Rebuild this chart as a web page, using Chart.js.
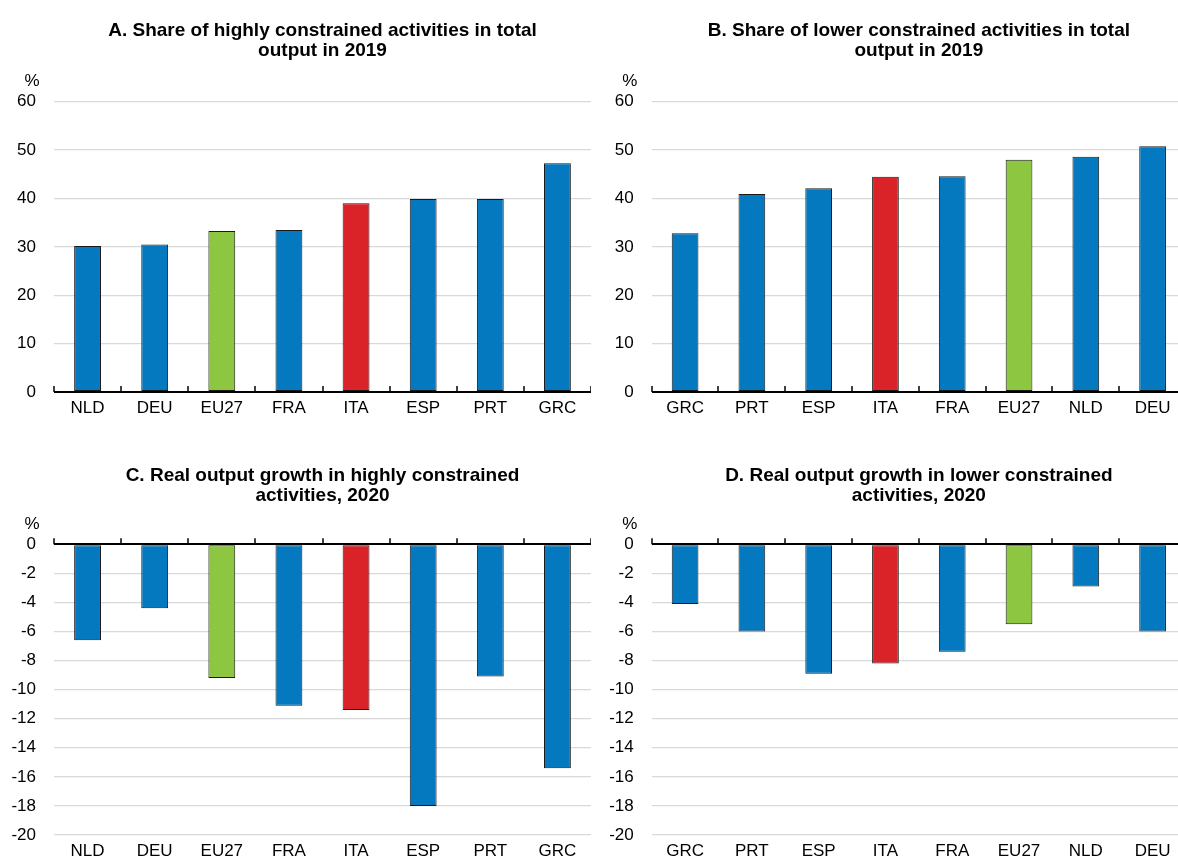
<!DOCTYPE html>
<html>
<head>
<meta charset="utf-8">
<script src="https://cdn.jsdelivr.net/npm/chart.js@4/dist/chart.umd.min.js"></script>
<style>
  html, body { margin:0; padding:0; background:#fff; width:1178px; height:859px; overflow:hidden; position:relative; }
  canvas { position:absolute; display:block; }
</style>
</head>
<body>
<canvas id="cA" width="591" height="430" style="left:0px;top:0px;"></canvas>
<canvas id="cB" width="595" height="430" style="left:591px;top:0px;"></canvas>
<canvas id="cC" width="591" height="433" style="left:0px;top:440px;"></canvas>
<canvas id="cD" width="595" height="433" style="left:591px;top:440px;"></canvas>
<script>
// ---- Data ----
const categoriesA = ['NLD','DEU','EU27','FRA','ITA','ESP','PRT','GRC'];
const valuesA = [30.2, 30.5, 33.3, 33.5, 39.0, 39.9, 39.9, 47.3];

const categoriesB = ['GRC','PRT','ESP','ITA','FRA','EU27','NLD','DEU'];
const valuesB = [32.8, 40.9, 42.1, 44.5, 44.6, 48.0, 48.6, 50.8];

const categoriesC = ['NLD','DEU','EU27','FRA','ITA','ESP','PRT','GRC'];
const valuesC = [-6.6, -4.4, -9.2, -11.1, -11.4, -18.0, -9.1, -15.4];

const categoriesD = ['GRC','PRT','ESP','ITA','FRA','EU27','NLD','DEU'];
const valuesD = [-4.1, -6.0, -8.9, -8.2, -7.4, -5.5, -2.9, -6.0];

const titleA = ['A. Share of highly constrained activities in total', 'output in 2019'];
const titleB = ['B. Share of lower constrained activities in total', 'output in 2019'];
const titleC = ['C. Real output growth in highly constrained', 'activities, 2020'];
const titleD = ['D. Real output growth in lower constrained', 'activities, 2020'];

const yTicksShare = [0, 60, 10];    // min, max, step
const yTicksGrowth = [-20, 0, 2];

// ---- Style ----
const FONT = '"Liberation Sans", Arial, Helvetica, sans-serif';
const BLUE = '#0579BF', GREEN = '#8DC641', RED = '#DA2229';
function colorFor(c){ return c === 'EU27' ? GREEN : (c === 'ITA' ? RED : BLUE); }

const decor = {
  id: 'decor',
  afterDatasetsDraw(chart) {
    const { ctx, chartArea: a, scales: { x, y } } = chart;
    const y0 = y.getPixelForValue(0);
    const n = chart.data.labels.length;
    const w = (x.right - x.left) / n;
    ctx.save();
    ctx.strokeStyle = '#000';
    ctx.lineWidth = 1.5;
    for (let i = 0; i <= n; i++) {
      const px = Math.round(x.left + i * w);
      ctx.beginPath();
      ctx.moveTo(px, y0);
      ctx.lineTo(px, y0 - 6);
      ctx.stroke();
    }
    ctx.fillStyle = '#000';
    ctx.font = '17px ' + FONT;
    ctx.textAlign = 'center';
    ctx.textBaseline = 'middle';
    ctx.fillText('%', a.left - 22, a.top - 20);
    ctx.restore();
  }
};

function makeChart(id, cats, vals, title, yt, yAxisWidth, titleTop, titleBottom) {
  return new Chart(document.getElementById(id), {
    type: 'bar',
    data: {
      labels: cats,
      datasets: [{
        data: vals,
        backgroundColor: cats.map(colorFor),
        borderColor: '#1a1a1a',
        borderWidth: 1,
        borderSkipped: false,
        barPercentage: 0.40,
        categoryPercentage: 1.0
      }]
    },
    options: {
      responsive: false,
      animation: false,
      devicePixelRatio: 1,
      layout: { padding: 0 },
      plugins: {
        legend: { display: false },
        tooltip: { enabled: false },
        title: {
          display: true,
          text: title,
          fullSize: false,
          color: '#000',
          font: { family: FONT, size: 19, weight: 'bold', lineHeight: 20.5 / 19 },
          padding: { top: titleTop, bottom: titleBottom }
        }
      },
      scales: {
        x: {
          grid: { display: false, drawTicks: false },
          border: { display: false },
          ticks: { color: '#000', font: { family: FONT, size: 17 }, padding: 6, maxRotation: 0, autoSkip: false },
          afterFit(s) { s.height = 38; }
        },
        y: {
          min: yt[0], max: yt[1],
          border: { display: false },
          grid: {
            drawTicks: false,
            color: c => (c.tick && c.tick.value === 0) ? '#000' : '#d9d9d9',
            lineWidth: c => (c.tick && c.tick.value === 0) ? 2 : 1.2
          },
          ticks: { stepSize: yt[2], color: '#000', font: { family: FONT, size: 17 }, padding: 18 },
          afterFit(s) { s.width = yAxisWidth; }
        }
      }
    },
    plugins: [decor]
  });
}

makeChart('cA', categoriesA, valuesA, titleA, yTicksShare, 54, 20.5, 40.2);
makeChart('cB', categoriesB, valuesB, titleB, yTicksShare, 60.7, 20.5, 40.2);
makeChart('cC', categoriesC, valuesC, titleC, yTicksGrowth, 54, 25.25, 38.05);
makeChart('cD', categoriesD, valuesD, titleD, yTicksGrowth, 60.7, 25.25, 38.05);
</script>
</body>
</html>
